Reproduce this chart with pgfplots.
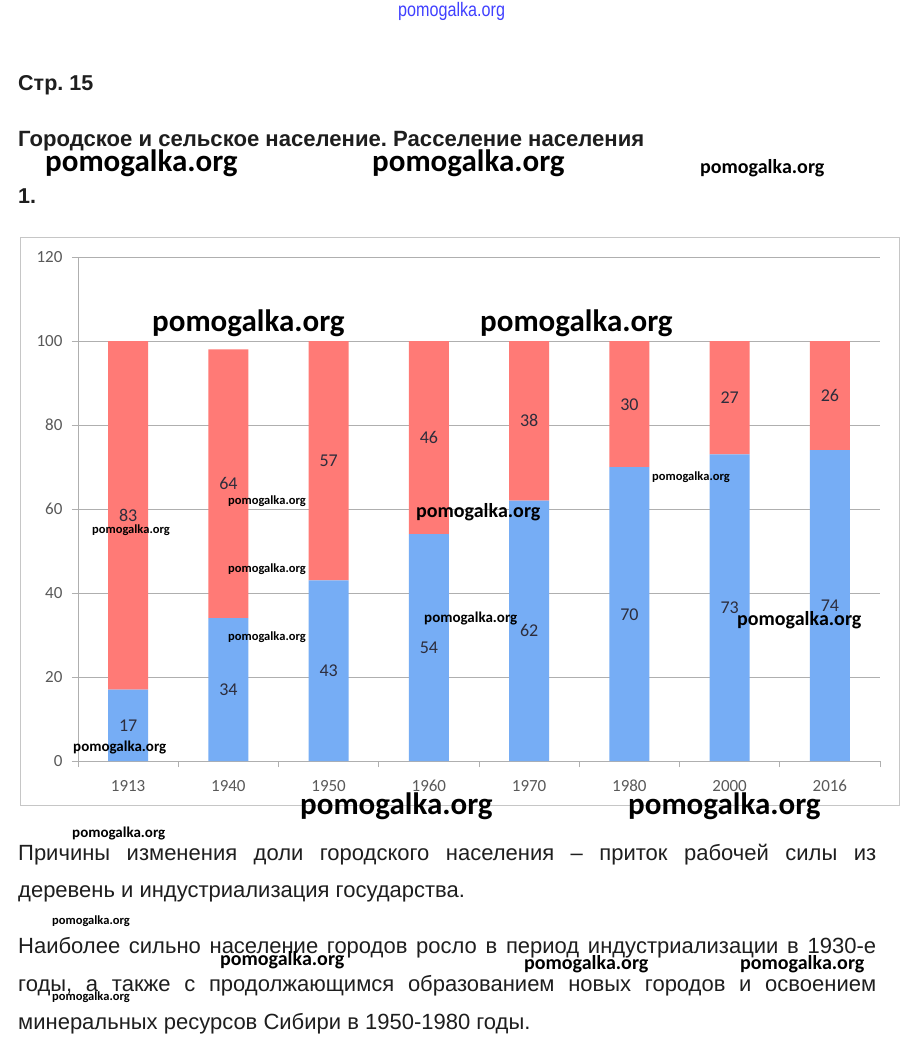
\documentclass[border=0pt]{standalone}
\usepackage{fontspec}
\setmainfont{Liberation Sans}
\newfontfamily\wm{Carlito}
\usepackage{pgfplots}
\pgfplotsset{compat=1.18}
\definecolor{rbar}{RGB}{255,122,118}
\definecolor{bbar}{RGB}{118,173,245}
\definecolor{gridc}{RGB}{175,175,175}
\definecolor{labc}{RGB}{89,89,89}
\definecolor{datc}{RGB}{45,45,60}
\definecolor{txt}{RGB}{30,30,30}
\newcommand{\fs}[1]{\fontsize{#1}{#1}\selectfont}
\frenchspacing
\begin{document}
\begin{tikzpicture}
\fill[white] (0,0) rectangle (913pt,-1050pt);
\draw[gray!45, line width=0.8pt] (20pt,-237pt) rectangle (899pt,-805pt);
\begin{axis}[at={(78pt,-761pt)}, anchor=south west, scale only axis,
  width=802pt, height=504pt, xmin=-0.5, xmax=7.5, ymin=0, ymax=120,
  ytick={0,20,...,120}, xtick={0,...,7},
  xticklabels={1913,1940,1950,1960,1970,1980,2000,2016},
  minor xtick={-0.5,0.5,...,7.5},
  axis x line=bottom, axis y line=left,
  axis line style={-, draw=gridc, line width=0.8pt},
  ymajorgrids, grid style={gridc, line width=0.8pt},
  tick align=outside, major tick length=6pt, minor tick length=6pt,
  major x tick style={draw=none}, minor x tick style={draw=gridc, line width=0.8pt},
  ytick style={draw=gridc, line width=0.8pt},
  ticklabel style={font=\wm\fs{17}, text=labc, text height=11.5pt, text depth=0pt},
  /pgf/number format/assume math mode=true,
  yticklabel style={xshift=-6pt},
  xticklabel style={anchor=north, yshift=-9pt},
  ybar stacked, bar width=40pt]
\addplot[fill=bbar, draw=none] coordinates {(0,17) (1,34) (2,43) (3,54) (4,62) (5,70) (6,73) (7,74)};
\addplot[fill=rbar, draw=none] coordinates {(0,83) (1,64) (2,57) (3,46) (4,38) (5,30) (6,27) (7,26)};
\end{axis}
\begin{axis}[at={(78pt,-761pt)}, anchor=south west, scale only axis,
  width=802pt, height=504pt, xmin=-0.5, xmax=7.5, ymin=0, ymax=120,
  hide axis, clip=false,
  nodes near coords, point meta=explicit symbolic,
  every node near coord/.style={anchor=center, font=\wm\fs{18}, text=datc, text height=12pt, text depth=0pt, inner sep=0pt}]
\addplot[draw=none, mark=none] coordinates {(0,8.5)[17] (1,17)[34] (2,21.5)[43] (3,27)[54] (4,31)[62] (5,35)[70] (6,36.5)[73] (7,37)[74]};
\addplot[draw=none, mark=none] coordinates {(0,58.5)[83] (1,66)[64] (2,71.5)[57] (3,77)[46] (4,81)[38] (5,85)[30] (6,86.5)[27] (7,87)[26]};
\end{axis}
% page text
\node[anchor=base west, inner sep=0, font=\bfseries\fs{21.5}, text=txt] at (18pt,-90pt) {Стр. 15};
\node[anchor=base west, inner sep=0, font=\bfseries\fs{22.1}, text=txt] at (18pt,-146pt) {Городское и сельское население. Расселение населения};
\node[anchor=base west, inner sep=0, font=\bfseries\fs{21.5}, text=txt] at (18pt,-203pt) {1.};
\node[anchor=base west, inner sep=0, font=\fs{22}, text=txt] at (18pt,-860pt) {\makebox[858pt][s]{Причины изменения доли городского населения – приток рабочей силы из}};
\node[anchor=base west, inner sep=0, font=\fs{22}, text=txt] at (18pt,-897pt) {деревень и индустриализация государства.};
\node[anchor=base west, inner sep=0, font=\fs{22}, text=txt] at (18pt,-953pt) {\makebox[858pt][s]{Наиболее сильно население городов росло в период индустриализации в 1930-е}};
\node[anchor=base west, inner sep=0, font=\fs{22}, text=txt] at (18pt,-991pt) {\makebox[858pt][s]{годы, а также с продолжающимся образованием новых городов и освоением}};
\node[anchor=base west, inner sep=0, font=\fs{22}, text=txt] at (18pt,-1029pt) {минеральных ресурсов Сибири в 1950-1980 годы.};
% watermarks
\node[anchor=west, inner sep=0, font=\fs{17}, text=blue!75] at (398pt,-11pt) {\scalebox{0.95}[1.15]{pomogalka.org}};
\foreach \x/\y in {45/163, 372/163, 152/323, 480/323, 300/806, 628/806}
  \node[anchor=west, inner sep=0, font=\wm\bfseries\fs{31}, text=black] at (\x pt,-\y pt) {pomogalka.org};
\foreach \x/\y in {700/168, 416/512, 737/620, 220/960, 524/964, 740/964}
  \node[anchor=west, inner sep=0, font=\wm\bfseries\fs{20}, text=black] at (\x pt,-\y pt) {pomogalka.org};
\foreach \x/\y in {73/747, 424/618, 72/833}
  \node[anchor=west, inner sep=0, font=\wm\bfseries\fs{15}, text=black] at (\x pt,-\y pt) {pomogalka.org};
\foreach \x/\y in {92/530, 228/501, 228/569, 228/637, 652/477, 52/921, 52/997}
  \node[anchor=west, inner sep=0, font=\wm\bfseries\fs{12.5}, text=black] at (\x pt,-\y pt) {pomogalka.org};
\end{tikzpicture}
\end{document}
